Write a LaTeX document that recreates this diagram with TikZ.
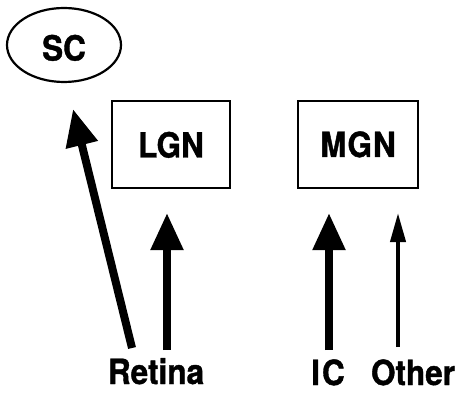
\documentclass[tikz,border=0pt]{standalone}
\usepackage{fontspec}
\setmainfont{TeX Gyre Heros}[BoldFeatures={FakeBold=1.2}]
\usetikzlibrary{arrows.meta,shapes.geometric}

% slightly taller lettering
\newcommand\tallword[1]{\scalebox{1}[1.1]{#1}}

\begin{document}
\begin{tikzpicture}[x=1pt,y=-1pt,
  lbl/.style={font=\fontsize{31.5}{36}\selectfont\bfseries, inner sep=0pt},
  area/.style={draw, line width=2.2pt, lbl},
  thick arrow/.style={line width=8pt, -{Triangle[width=31pt,length=37pt]}},
  thin arrow/.style={line width=4pt, -{Triangle[width=15pt,length=29pt]}}]
  \useasboundingbox (0,0) rectangle (465,403);

  % target structures
  \node[area, ellipse, minimum width=114pt, minimum height=74pt,
        text height=31pt, text depth=0pt] (sc) at (64,45) {\tallword{SC}};
  \node[area, rectangle, minimum width=118pt, minimum height=87pt,
        text height=26pt, text depth=0pt] (lgn) at (171,144.5) {\tallword{LGN}};
  \node[area, rectangle, minimum width=120pt, minimum height=87pt,
        text height=25pt, text depth=0pt] (mgn) at (358,144.5) {\tallword{M\kern1pt G\kern1pt N}};

  % sources
  \node[lbl, anchor=base] (retina) at (156,384) {\tallword{Retina}};
  \node[lbl, anchor=base] (ic) at (328,385) {\tallword{I\kern2pt C}};
  \node[lbl, anchor=base] (other) at (413,385) {\tallword{Other}};

  % arrow end points
  \coordinate (scfrom) at (132,348);
  \coordinate (scto) at (73,109);
  \coordinate (lgnfrom) at (167,350);
  \coordinate (lgnto) at (167,213);
  \coordinate (icfrom) at (329,350);
  \coordinate (icto) at (329,213);
  \coordinate (otherfrom) at (398,347);
  \coordinate (otherto) at (398,213);

  \draw[thick arrow] (scfrom) -- (scto);
  \draw[thick arrow] (lgnfrom) -- (lgnto);
  \draw[thick arrow] (icfrom) -- (icto);
  \draw[thin arrow] (otherfrom) -- (otherto);
\end{tikzpicture}
\end{document}
